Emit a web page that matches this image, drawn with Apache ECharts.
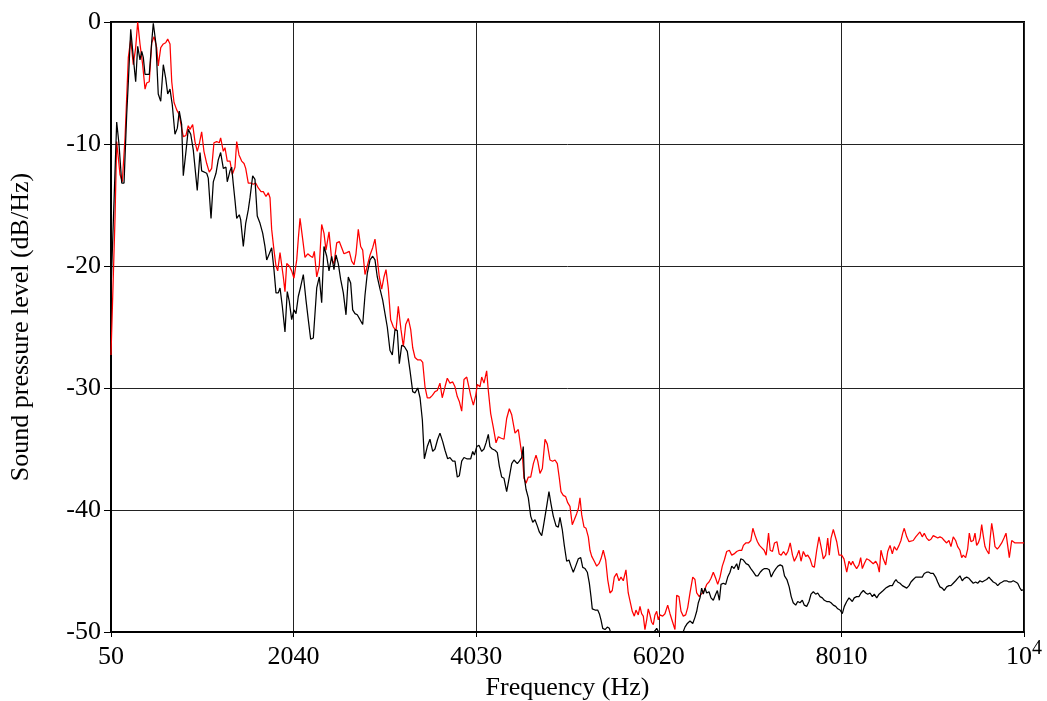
<!DOCTYPE html>
<html>
<head>
<meta charset="utf-8">
<script src="https://cdn.jsdelivr.net/npm/echarts@6/dist/echarts.min.js"></script>
<style>
html,body{margin:0;padding:0;background:#fff;}
#chart{width:1047px;height:701px;}
</style>
</head>
<body>
<div id="chart"></div>
<script>
// Tick values (Hz) and axis texts
const xTicks = [50, 2040, 4030, 6020, 8010, 10000];
const xName = 'Frequency (Hz)';
const yName = 'Sound pressure level (dB/Hz)';

// Red series: [frequency Hz, level dB/Hz]
const redData = [
[50,-27.3],[94,-16],[112,-9.8],[148,-12.5],[173,-13.1],[203,-9.5],[221,-6.2],[239,-2.9],[265,-1.4],[293,-3.5],[319,-2.1],[341,0],[366,-1.8],[395,-3.5],[421,-5.5],[439,-5.0],[467,-4.9],[494,-1.7],[519,-1.2],[548,-2.1],[565,-3.6],[592,-2.1],[620,-1.8],[646,-1.7],[668,-1.4],[693,-1.8],[712,-4.9],[737,-6.6],[766,-7.2],[794,-7.6],[820,-8.7],[838,-9.4],[867,-9.3],[892,-8.5],[911,-8.8],[940,-8.4],[965,-9.8],[990,-10.6],[1012,-10.0],[1038,-9.0],[1063,-10.6],[1093,-11.6],[1121,-12.3],[1147,-12.0],[1172,-9.9],[1202,-9.8],[1230,-9.9],[1245,-9.5],[1274,-10.6],[1292,-10.3],[1317,-11.4],[1347,-11.4],[1372,-12.5],[1401,-11.9],[1420,-9.8],[1445,-10.9],[1474,-11.4],[1500,-11.6],[1518,-12.0],[1546,-13.2],[1573,-13.2],[1601,-13.3],[1627,-13.2],[1655,-13.6],[1685,-13.9],[1710,-13.9],[1739,-14.3],[1764,-14.0],[1783,-14.4],
[1801,-17.0],[1826,-18.7],[1848,-20.0],[1867,-20.4],[1892,-18.9],[1910,-19.0],[1928,-20.9],[1946,-22.1],[1965,-19.8],[1993,-20.0],[2019,-20.4],[2044,-21.0],[2074,-19.5],[2091,-17.8],[2110,-16.1],[2139,-17.8],[2164,-19.3],[2194,-19.0],[2226,-19.2],[2248,-19.3],[2266,-18.8],[2292,-20.9],[2320,-20.0],[2346,-16.6],[2371,-17.3],[2393,-18.7],[2426,-17.2],[2455,-19.5],[2480,-19.8],[2510,-18.1],[2538,-18.0],[2564,-18.5],[2589,-19.0],[2619,-18.9],[2647,-18.8],[2673,-19.6],[2698,-19.9],[2720,-19.0],[2745,-17.0],[2771,-18.4],[2793,-18.7],[2818,-20.7],[2843,-20.0],[2873,-19.1],[2902,-18.5],[2927,-17.8],[2946,-19.0],[2974,-20.9],[3000,-21.9],[3025,-20.9],[3047,-20.3],[3072,-21.8],[3098,-24.4],[3127,-25.0],[3156,-25.3],[3181,-23.3],
[3210,-25.2],[3236,-26.6],[3262,-24.8],[3290,-24.3],[3316,-25.2],[3338,-26.7],[3363,-27.5],[3393,-27.7],[3425,-27.7],[3447,-27.9],[3472,-29.9],[3497,-30.8],[3526,-30.8],[3552,-30.6],[3581,-30.3],[3606,-30.2],[3635,-29.6],[3660,-30.8],[3690,-29.9],[3715,-29.2],[3744,-29.6],[3774,-29.5],[3799,-29.9],[3824,-30.7],[3846,-31.1],[3872,-31.9],[3897,-29.3],[3927,-29.1],[3944,-29.2],[3970,-30.6],[3999,-31.4],[4025,-30.6],[4042,-29.7],[4071,-29.9],[4090,-29.1],[4115,-29.6],[4144,-28.6],[4162,-30.2],[4188,-32.1],[4216,-33.2],[4246,-34.5],[4271,-34.0],[4297,-34.1],[4333,-34.2],
[4362,-32.5],[4391,-31.7],[4417,-32.2],[4453,-33.7],[4489,-33.4],[4515,-34.8],[4537,-35.9],[4551,-37.4],[4573,-37.8],[4598,-37.3],[4624,-37.3],[4653,-36.2],[4682,-35.5],[4701,-36.0],[4725,-37.0],[4751,-36.6],[4780,-34.2],[4805,-34.6],[4834,-35.9],[4863,-36.0],[4889,-35.9],[4914,-36.2],[4936,-37.4],[4954,-38.5],[4979,-38.8],[5005,-38.9],[5027,-39.4],[5052,-39.7],[5077,-41.2],[5099,-40.8],[5125,-40.3],[5143,-39.9],[5161,-39.0],[5180,-40.4],[5205,-41.4],[5227,-41.5],[5252,-42.2],[5270,-43.3],[5289,-43.8],[5317,-44.2],[5343,-44.6],[5368,-44.4],[5390,-44.0],[5415,-43.3],[5441,-44.1],[5463,-45.7],[5488,-46.8],[5513,-46.6],[5535,-45.5],[5561,-45.2],[5586,-45.8],[5608,-45.5],[5633,-45.8],[5662,-44.9],[5687,-46.8],[5706,-46.9],[5731,-48.3],[5753,-48.7],[5771,-48.2],[5796,-48.6],[5815,-47.9],[5833,-48.5],[5851,-48.7],[5869,-49.8],[5888,-49.0],[5905,-48.1],[5924,-48.6],[5942,-49.2],[5960,-49.4],[5978,-48.6],[5997,-48.3],[6014,-49.0],[6032,-48.6],[6062,-48.7],[6087,-48.5],[6117,-47.8],[6142,-48.5],[6171,-49.2],[6196,-49.8],[6215,-47.0],[6240,-47.1],[6262,-48.3],[6287,-48.7],[6313,-48.6],[6335,-48.0],[6360,-46.8],[6390,-45.5],[6414,-45.7],[6433,-46.8],[6461,-47.1],
[6494,-46.8],[6516,-46.6],[6542,-46.1],[6567,-45.9],[6589,-45.6],[6614,-45.1],[6640,-45.6],[6662,-46.1],[6687,-45.5],[6712,-44.6],[6734,-44.1],[6760,-43.4],[6789,-43.3],[6815,-43.7],[6840,-43.6],[6869,-43.4],[6898,-43.3],[6924,-43.3],[6942,-42.9],[6968,-42.7],[6997,-42.7],[7023,-42.5],[7045,-41.5],[7070,-42.1],[7095,-42.6],[7117,-42.9],[7143,-43.1],[7168,-43.3],[7190,-43.7],[7216,-41.9],[7234,-43.3],[7259,-43.4],[7281,-42.7],[7307,-42.6],[7332,-43.6],[7354,-43.7],[7379,-43.4],[7405,-43.7],[7427,-43.4],[7452,-42.7],[7477,-43.7],[7497,-44.2],[7523,-43.8],[7548,-43.3],[7570,-44.2],[7595,-43.4],[7621,-43.8],[7643,-43.7],[7668,-44.0],[7693,-44.6],[7715,-44.7],[7741,-43.3],[7766,-42.2],[7788,-43.0],[7813,-44.0],[7839,-43.7],[7861,-42.3],[7878,-43.7],[7897,-42.3],[7922,-41.6],[7941,-41.7],[7959,-42.6],[7984,-43.7],[8013,-43.7],[8038,-44.0],[8068,-45.1],[8093,-44.2],
[8115,-44.5],[8133,-44.2],[8150,-44.5],[8176,-44.8],[8201,-44.5],[8220,-43.9],[8238,-44.8],[8259,-44.4],[8285,-44.0],[8311,-44.1],[8332,-44.0],[8357,-44.4],[8384,-44.2],[8405,-44.5],[8423,-45.1],[8441,-43.3],[8466,-44.0],[8493,-44.5],[8515,-43.4],[8540,-42.9],[8565,-43.6],[8586,-43.0],[8612,-43.3],[8638,-42.9],[8659,-42.5],[8678,-41.9],[8695,-41.5],[8722,-42.2],[8747,-42.6],[8768,-42.6],[8793,-42.5],[8820,-42.2],[8841,-42.2],[8866,-41.8],[8891,-42.2],[8913,-41.9],[8939,-42.3],[8964,-42.5],[8986,-42.4],[9011,-42.1],[9037,-42.2],[9059,-42.3],[9084,-42.2],[9109,-42.3],[9131,-42.5],[9157,-42.7],[9182,-42.5],[9204,-43.0],[9229,-42.2],[9255,-42.5],[9277,-43.0],[9302,-43.3],[9321,-43.9],[9338,-43.7],[9364,-43.9],[9386,-43.2],[9404,-41.9],[9422,-42.6],[9447,-42.5],[9466,-41.9],[9484,-42.9],[9502,-42.7],[9520,-42.3],[9539,-41.2],[9556,-42.1],[9575,-43.0],[9593,-43.3],[9618,-43.6],[9629,-42.5],[9648,-41.1],[9665,-41.9],[9684,-43.0],[9709,-43.2],[9731,-43.0],[9757,-42.7],[9782,-42.3],[9804,-41.9],[9822,-42.9],[9840,-43.9],[9866,-42.5],[9883,-42.6],[9902,-42.7],[9927,-42.7],[9949,-42.7],[9975,-42.7],[10000,-42.7]
];

// Black series: [frequency Hz, level dB/Hz]
const blackData = [
[50,-22],[112,-8.2],[137,-10.0],[167,-13.2],[192,-13.2],[221,-7.6],[239,-4.9],[265,-0.6],[293,-2.9],[319,-4.9],[341,-2.0],[366,-3.1],[385,-2.4],[402,-2.9],[421,-4.3],[467,-4.3],[494,-1.6],[511,-0.1],[540,-1.8],[565,-5.9],[592,-6.5],[620,-3.5],[646,-4.6],[668,-5.9],[693,-5.5],[718,-6.8],[747,-9.2],[773,-8.7],[794,-7.3],[820,-8.4],[838,-12.6],[867,-10.6],[892,-8.8],[919,-9.2],[947,-10.5],[990,-13.8],
[1020,-10.7],[1038,-12.2],[1093,-12.4],[1110,-12.8],[1140,-16.1],[1165,-13.1],[1194,-12.4],[1219,-11.3],[1245,-10.7],[1274,-12.0],[1303,-11.9],[1317,-13.1],[1347,-12.2],[1365,-11.9],[1383,-13.3],[1401,-14.6],[1420,-16.1],[1448,-15.8],[1463,-16.2],[1492,-18.4],[1518,-16.5],[1546,-15.4],[1565,-14.4],[1594,-12.6],[1619,-12.9],[1644,-15.9],[1674,-16.5],[1703,-17.3],[1728,-18.4],[1747,-19.5],[1775,-19.0],[1801,-18.5],[1826,-20.3],[1848,-22.2],[1873,-22.2],[1892,-21.8],[1917,-23.3],[1946,-25.4],[1971,-22.1],[1993,-22.9],[2019,-24.4],[2044,-23.6],[2066,-23.9],[2091,-22.5],[2117,-21.7],[2146,-20.7],[2175,-22.8],[2200,-24.4],[2226,-26.0],[2255,-25.9],[2292,-21.8],[2320,-20.9],[2346,-23.0],[2371,-18.4],[2401,-19.2],[2426,-20.4],[2455,-19.2],[2480,-20.3],[2502,-19.1],[2527,-19.8],[2553,-21.1],[2582,-22.2],[2611,-24.0],[2636,-20.9],[2662,-21.4],[2684,-23.6],[2709,-23.9],[2734,-24.0],[2764,-24.4],[2793,-24.8],[2818,-22.4],[2843,-20.6],[2873,-19.5],[2902,-19.2],[2927,-19.5],[2952,-20.9],[2982,-21.9],[3011,-22.8],[3036,-23.9],[3061,-25.0],[3090,-26.9],[3116,-27.3],[3145,-25.2],[3170,-25.3],[3192,-28.0],[3218,-26.5],[3247,-26.6],[3279,-27.0],[3309,-28.6],[3338,-30.3],[3363,-30.4],[3393,-30.0],[3418,-30.8],[3443,-32.6],[3465,-35.8],[3497,-34.8],[3526,-34.2],[3556,-35.2],[3581,-35.0],[3610,-34.2],[3635,-33.7],[3665,-34.4],[3690,-35.1],[3719,-35.8],[3744,-35.7],[3774,-36.0],[3799,-36.0],[3824,-37.3],[3846,-37.2],[3872,-36.0],[3897,-35.7],[3927,-35.8],[3944,-35.7],[3970,-35.8],[3992,-35.2],[4010,-35.5],[4036,-34.8],[4060,-34.7],[4090,-35.2],[4115,-35.0],[4137,-34.5],[4162,-33.8],[4180,-34.8],[4205,-35.0],[4235,-35.1],[4260,-35.3],[4282,-36.4],[4308,-37.3],[4333,-37.4],
[4362,-38.5],[4391,-37.3],[4417,-36.2],[4442,-35.9],[4478,-36.2],[4500,-36.0],[4526,-35.7],[4543,-34.8],[4554,-37.3],[4573,-38.3],[4598,-39.0],[4624,-40.5],[4646,-41.0],[4671,-40.8],[4696,-41.3],[4718,-41.8],[4744,-42.1],[4761,-41.4],[4798,-39.7],[4823,-38.5],[4845,-39.5],[4870,-40.5],[4900,-41.3],[4925,-41.4],[4943,-40.6],[4968,-41.6],[4990,-42.9],[5016,-44.2],[5041,-44.1],[5063,-44.6],[5088,-45.1],[5114,-44.6],[5143,-44.0],[5169,-43.9],[5191,-44.7],[5216,-44.8],[5241,-45.1],[5263,-46.0],[5281,-47.1],[5295,-48.1],[5325,-48.2],[5354,-48.2],[5372,-48.5],[5390,-49.0],[5409,-49.7],[5434,-49.8],[5459,-49.6],[5481,-49.7],[5507,-50.3],
[5530,-50.6],[5600,-51],[5700,-51.5],[5800,-51],[5900,-50.5],[5978,-49.9],[5997,-49.7],[6014,-49.6],[6032,-50.2],[6080,-51],[6200,-51],[6270,-50.3],[6305,-49.6],[6331,-49.3],[6360,-49.1],[6390,-49.3],[6414,-48.8],[6433,-48.3],[6451,-47.6],[6469,-47.2],[6487,-46.4],[6505,-46.9],[6523,-46.4],[6542,-46.8],[6567,-46.7],[6589,-47.2],[6614,-47.4],[6640,-46.9],[6658,-46.6],[6680,-47.4],[6698,-46.1],[6723,-46.0],[6749,-46.1],[6771,-45.5],[6796,-45.1],[6815,-44.6],[6840,-44.8],[6869,-44.4],[6887,-44.9],[6913,-44.0],[6942,-44.1],[6971,-44.4],[6997,-44.5],[7023,-44.8],[7051,-45.1],[7078,-45.4],[7100,-45.4],[7125,-45.1],[7150,-44.9],[7172,-44.8],[7198,-44.8],[7223,-44.9],[7245,-45.5],[7270,-45.1],[7296,-44.8],[7318,-44.6],[7343,-44.5],[7368,-44.6],[7390,-45.4],[7416,-45.7],[7441,-46.3],[7463,-47.1],[7485,-47.6],[7512,-47.8],[7534,-47.5],[7559,-47.6],[7584,-47.4],[7606,-47.8],[7632,-47.9],[7657,-47.5],[7679,-46.9],[7704,-46.7],[7730,-46.9],[7752,-46.8],[7777,-47.1],[7802,-47.2],[7824,-47.4],[7850,-47.5],[7875,-47.5],[7897,-47.6],[7922,-47.8],[7948,-47.9],[7970,-48.1],[7995,-48.2],[8020,-48.5],[8042,-47.9],[8068,-47.5],[8093,-47.2],
[8129,-47.5],[8150,-47.2],[8176,-47.1],[8201,-47.1],[8224,-46.8],[8249,-46.6],[8275,-46.8],[8297,-46.9],[8322,-46.8],[8347,-47.1],[8368,-46.9],[8395,-47.2],[8420,-46.9],[8441,-46.8],[8466,-46.6],[8493,-46.4],[8515,-46.3],[8540,-46.2],[8565,-46.2],[8586,-45.9],[8605,-45.7],[8623,-45.9],[8648,-46.0],[8674,-46.2],[8695,-46.3],[8722,-46.4],[8747,-46.2],[8768,-45.9],[8793,-45.7],[8820,-45.5],[8841,-45.4],[8866,-45.5],[8891,-45.5],[8913,-45.2],[8939,-45.1],[8964,-45.1],[8986,-45.2],[9011,-45.2],[9037,-45.5],[9059,-45.9],[9084,-46.3],[9109,-46.4],[9131,-46.6],[9157,-46.3],[9182,-46.2],[9204,-46.2],[9229,-46.0],[9255,-45.8],[9277,-45.6],[9302,-45.4],[9327,-45.8],[9349,-45.6],[9375,-45.5],[9400,-45.6],[9422,-45.8],[9447,-46.0],[9473,-45.9],[9495,-46.0],[9520,-45.8],[9545,-45.9],[9567,-45.8],[9593,-45.7],[9618,-45.5],[9640,-45.7],[9665,-45.9],[9691,-46.0],[9713,-46.2],[9738,-46.0],[9763,-45.9],[9785,-45.8],[9811,-45.8],[9836,-45.9],[9858,-45.9],[9883,-45.8],[9909,-45.9],[9931,-46.0],[9956,-46.4],[9975,-46.6],[10000,-46.5]
];

const FONT = "'Liberation Serif', 'Times New Roman', serif";
const chart = echarts.init(document.getElementById('chart'), null, {renderer: 'canvas'});
chart.setOption({
  animation: false,
  backgroundColor: '#fff',
  grid: {left: 111, right: 23, top: 22, bottom: 69, outerBoundsMode: 'none', containLabel: false, show: true, borderColor: '#000', borderWidth: 2, backgroundColor: 'transparent'},
  xAxis: {
    type: 'value', min: 50, max: 10000,
    name: xName, nameLocation: 'middle', nameGap: 43,
    nameTextStyle: {fontFamily: FONT, fontSize: 26, color: '#000'},
    axisLine: {show: true, onZero: false, lineStyle: {color: '#000', width: 2}},
    axisTick: {show: true, inside: false, length: 5, customValues: xTicks, lineStyle: {color: '#000', width: 1}},
    axisLabel: {
      customValues: xTicks, margin: 4, color: '#000', fontFamily: FONT, fontSize: 26,
      formatter: function (v) { return v === 10000 ? '{b|10}{s|4}' : '{b|' + v + '}'; },
      rich: {
        b: {fontFamily: FONT, fontSize: 26, color: '#000', padding: [8, 0, 0, 0]},
        s: {fontFamily: FONT, fontSize: 20, color: '#000', verticalAlign: 'top', padding: [3, 0, 0, 0]}
      }
    },
    splitLine: {show: true, lineStyle: {color: '#222', width: 1}}
  },
  yAxis: {
    type: 'value', min: -50, max: 0, interval: 10,
    name: yName, nameLocation: 'middle', nameGap: 77, nameRotate: 90,
    nameTextStyle: {fontFamily: FONT, fontSize: 26, color: '#000'},
    axisLine: {show: true, onZero: false, lineStyle: {color: '#000', width: 2}},
    axisTick: {show: true, inside: false, length: 7, lineStyle: {color: '#000', width: 1}},
    axisLabel: {margin: 10, color: '#000', fontFamily: FONT, fontSize: 26},
    splitLine: {show: true, lineStyle: {color: '#222', width: 1}}
  },
  series: [
    {type: 'line', data: redData, showSymbol: false, clip: true, lineStyle: {color: '#f00', width: 1.25}, itemStyle: {color: '#f00'}},
    {type: 'line', data: blackData, showSymbol: false, clip: true, lineStyle: {color: '#000', width: 1.25}, itemStyle: {color: '#000'}}
  ]
});
</script>
</body>
</html>
